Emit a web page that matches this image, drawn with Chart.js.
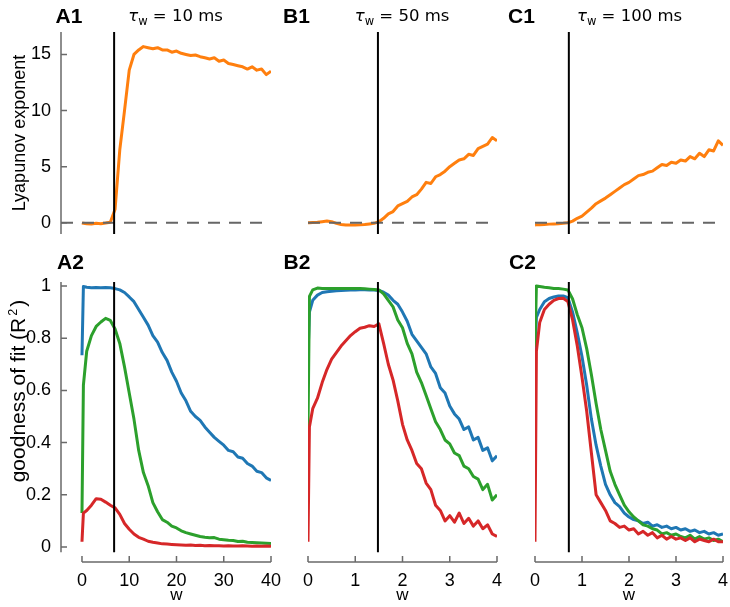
<!DOCTYPE html>
<html>
<head>
<meta charset="utf-8">
<script src="https://cdn.jsdelivr.net/npm/chart.js@4.4.0/dist/chart.umd.min.js"></script>
<style>
body { margin:0; background:#fff; width:730px; height:607px; position:relative; overflow:hidden; font-family:"Liberation Sans", Arial, sans-serif; }
canvas { position:absolute; }
.lbl { position:absolute; transform:translate(-50%,-50%); line-height:1; white-space:nowrap; color:#000; }
.panel { font-weight:bold; font-size:21px; }
.tau { font-family:"DejaVu Sans", sans-serif; font-size:16.5px; }
.tau sub { font-size:70%; vertical-align:-0.35em; line-height:0; }
.ylab { transform:translate(-50%,-50%) rotate(-90deg); }
.ylab sup { font-size:60%; vertical-align:0.6em; line-height:0; margin:0 2px; }
.xlab { font-size:17px; }
</style>
</head>
<body>
<canvas id="a1" width="285" height="250" style="left:0;top:0"></canvas>
<canvas id="b1" width="220" height="250" style="left:290px;top:0"></canvas>
<canvas id="c1" width="213" height="250" style="left:517px;top:0"></canvas>
<canvas id="a2" width="285" height="367" style="left:0;top:240px"></canvas>
<canvas id="b2" width="220" height="367" style="left:290px;top:240px"></canvas>
<canvas id="c2" width="213" height="367" style="left:517px;top:240px"></canvas>

<div class="lbl panel" style="left:69px;top:14.5px">A1</div>
<div class="lbl panel" style="left:296.5px;top:14.5px">B1</div>
<div class="lbl panel" style="left:521.5px;top:14.5px">C1</div>
<div class="lbl panel" style="left:70.5px;top:260.5px">A2</div>
<div class="lbl panel" style="left:297px;top:260.5px">B2</div>
<div class="lbl panel" style="left:522.5px;top:260.5px">C2</div>
<div class="lbl tau" style="left:175.5px;top:15.5px"><i>τ</i><sub>w</sub> = 10 ms</div>
<div class="lbl tau" style="left:402px;top:15.5px"><i>τ</i><sub>w</sub> = 50 ms</div>
<div class="lbl tau" style="left:629.5px;top:15.5px"><i>τ</i><sub>w</sub> = 100 ms</div>
<div class="lbl ylab" style="left:19px;top:132.5px;font-size:18px">Lyapunov exponent</div>
<div class="lbl ylab" style="left:17px;top:391px;font-size:21px">goodness of fit (R<sup>2</sup>)</div>
<div class="lbl xlab" style="left:176.5px;top:594px">w</div>
<div class="lbl xlab" style="left:402.5px;top:594px">w</div>
<div class="lbl xlab" style="left:629px;top:594px">w</div>

<script>
// w values (A: tau_w = 10 ms, B/C: tau_w = 50 / 100 ms)
var wA = [0, 0.3, 1, 2, 3, 4, 5, 6, 7, 8, 9, 10, 11, 12, 13, 14, 15, 16, 17, 18, 19, 20,
          21, 22, 23, 24, 25, 26, 27, 28, 29, 30, 31, 32, 33, 34, 35, 36, 37, 38, 39, 40];
var wB = [0, 0.03, 0.1, 0.2, 0.3, 0.4, 0.5, 0.6, 0.7, 0.8, 0.9, 1.0, 1.1, 1.2, 1.3, 1.4, 1.5,
          1.6, 1.7, 1.8, 1.9, 2.0, 2.1, 2.2, 2.3, 2.4, 2.5, 2.6, 2.7, 2.8, 2.9, 3.0,
          3.1, 3.2, 3.3, 3.4, 3.5, 3.6, 3.7, 3.8, 3.9, 4.0];
var wC = wB;

// critical w (vertical lines)
var wCritA = 6.8, wCritB = 1.48, wCritC = 0.72;

// Lyapunov exponent
var lyapA = [0.0, -0.05, -0.08, -0.1, -0.05, -0.08, -0.02, 0.05, 1.2, 6.5, 10.0, 13.6, 15.0, 15.4, 15.7,
             15.6, 15.5, 15.6, 15.4, 15.4, 15.2, 15.3, 15.1, 15.0, 14.9, 14.95, 14.8, 14.7, 14.6, 14.7,
             14.4, 14.5, 14.2, 14.1, 14.0, 13.9, 13.7, 13.9, 13.6, 13.7, 13.2, 13.5];
var lyapB = [0.0, 0.0, 0.02, 0.05, 0.1, 0.15, 0.1, -0.05, -0.15, -0.2, -0.2, -0.2, -0.18, -0.15, -0.1,
             -0.05, 0.1, 0.4, 0.8, 1.0, 1.5, 1.7, 1.9, 2.3, 2.5, 3.0, 3.6, 3.5, 4.1, 4.3, 4.6, 5.0,
             5.3, 5.6, 5.7, 6.1, 6.0, 6.6, 6.8, 7.0, 7.6, 7.3];
var lyapC = [-0.2, -0.18, -0.18, -0.15, -0.12, -0.1, -0.08, -0.05, 0.0, 0.15, 0.4, 0.6, 0.95, 1.3, 1.7,
             1.95, 2.2, 2.5, 2.8, 3.1, 3.4, 3.6, 3.9, 4.2, 4.3, 4.5, 4.6, 4.9, 5.2, 5.1, 5.4, 5.3,
             5.6, 5.5, 5.9, 5.7, 6.2, 5.9, 6.5, 6.4, 7.3, 6.9];

// goodness of fit (R^2)
var blueA = [0.735, 0.998, 0.995, 0.993, 0.994, 0.993, 0.994, 0.993, 0.99, 0.985, 0.975, 0.958, 0.94,
             0.91, 0.88, 0.85, 0.81, 0.785, 0.745, 0.715, 0.67, 0.635, 0.59, 0.56, 0.52, 0.5, 0.485,
             0.46, 0.44, 0.42, 0.405, 0.39, 0.37, 0.365, 0.345, 0.34, 0.32, 0.31, 0.29, 0.285, 0.265, 0.255];
var greenA = [0.13, 0.62, 0.75, 0.81, 0.845, 0.862, 0.876, 0.868, 0.835, 0.78, 0.69, 0.59, 0.49, 0.37,
              0.285, 0.235, 0.17, 0.135, 0.105, 0.095, 0.08, 0.073, 0.062, 0.055, 0.05, 0.045, 0.04,
              0.037, 0.035, 0.036, 0.03, 0.028, 0.026, 0.025, 0.021, 0.022, 0.018, 0.017, 0.016, 0.015, 0.014, 0.013];
var redA = [0.02, 0.13, 0.14, 0.16, 0.185, 0.183, 0.172, 0.16, 0.15, 0.125, 0.09, 0.068, 0.05, 0.037,
            0.03, 0.022, 0.018, 0.015, 0.012, 0.011, 0.01, 0.009, 0.008, 0.007, 0.008, 0.006, 0.007,
            0.005, 0.006, 0.005, 0.005, 0.004, 0.005, 0.004, 0.004, 0.005, 0.004, 0.003, 0.004, 0.003, 0.004, 0.003];

var blueB = [0.735, 0.9, 0.945, 0.965, 0.975, 0.978, 0.98, 0.982, 0.983, 0.984, 0.985, 0.985,
             0.986, 0.986, 0.985, 0.985, 0.983, 0.976, 0.965, 0.945, 0.93, 0.9, 0.865, 0.815, 0.79,
             0.765, 0.74, 0.69, 0.665, 0.61, 0.59, 0.54, 0.51, 0.49, 0.45, 0.46, 0.41, 0.42, 0.37,
             0.38, 0.33, 0.35];
var greenB = [0.45, 0.96, 0.985, 0.992, 0.99, 0.99, 0.99, 0.99, 0.99, 0.99, 0.99, 0.99,
              0.99, 0.989, 0.988, 0.987, 0.985, 0.97, 0.945, 0.92, 0.87, 0.84, 0.78, 0.74, 0.67,
              0.63, 0.58, 0.53, 0.48, 0.45, 0.41, 0.395, 0.36, 0.35, 0.31, 0.3, 0.27, 0.26, 0.22,
              0.24, 0.18, 0.2];
var redB = [0.02, 0.46, 0.53, 0.57, 0.63, 0.68, 0.72, 0.745, 0.77, 0.79, 0.81, 0.825,
            0.838, 0.842, 0.848, 0.845, 0.855, 0.78, 0.7, 0.64, 0.56, 0.47, 0.41, 0.37, 0.32,
            0.3, 0.245, 0.22, 0.16, 0.14, 0.1, 0.12, 0.095, 0.13, 0.09, 0.11, 0.08, 0.1, 0.07,
            0.085, 0.05, 0.04];

var blueC = [0.735, 0.88, 0.91, 0.94, 0.952, 0.958, 0.962, 0.962, 0.955, 0.9, 0.82, 0.73,
             0.62, 0.49, 0.39, 0.31, 0.24, 0.2, 0.17, 0.155, 0.13, 0.115, 0.105, 0.1, 0.09,
             0.095, 0.08, 0.085, 0.075, 0.08, 0.07, 0.075, 0.065, 0.07, 0.06, 0.065, 0.055, 0.06,
             0.05, 0.055, 0.045, 0.05];
var greenC = [0.767, 1.0, 0.998, 0.995, 0.993, 0.99, 0.99, 0.988, 0.985, 0.95, 0.89, 0.84,
              0.76, 0.66, 0.55, 0.45, 0.37, 0.29, 0.24, 0.2, 0.16, 0.135, 0.115, 0.1, 0.085,
              0.08, 0.07, 0.065, 0.05, 0.055, 0.045, 0.05, 0.04, 0.035, 0.045, 0.03, 0.04, 0.03,
              0.035, 0.025, 0.03, 0.02];
var redC = [0.02, 0.75, 0.86, 0.91, 0.93, 0.945, 0.952, 0.953, 0.94, 0.87, 0.77, 0.65,
            0.52, 0.36, 0.2, 0.17, 0.14, 0.1, 0.09, 0.075, 0.08, 0.065, 0.07, 0.05, 0.06,
            0.045, 0.055, 0.035, 0.045, 0.03, 0.04, 0.03, 0.035, 0.025, 0.035, 0.02, 0.03, 0.025,
            0.02, 0.03, 0.02, 0.02];

// ticks
var lyapTicks = [0, 5, 10, 15];
var fitTicks = [0, 0.2, 0.4, 0.6, 0.8, 1];
var wTicksA = [0, 10, 20, 30, 40];
var wTicksBC = [0, 1, 2, 3, 4];

var ORANGE = '#ff7f0e', BLUE = '#1f77b4', GREEN = '#2ca02c', RED = '#d62728';
var tickFont = { family: 'Liberation Sans', size: 18 };

var pts = function(xs, ys) {
    return xs.map(function(x, i) { return { x: x, y: ys[i] }; });
};

var line = function(data, color, width, dash) {
    return { data: data, borderColor: color, borderWidth: width, borderDash: dash || [],
             pointRadius: 0, fill: false, tension: 0, borderJoinStyle: 'round' };
};

// axis spines with inward tick marks, like the original figure
var spines = function(o) {
    return {
        id: 'spines',
        beforeDatasetsDraw: function(chart) {
            var ctx = chart.ctx, xs = chart.scales.x, ys = chart.scales.y, a = chart.chartArea;
            ctx.save();
            ctx.strokeStyle = '#6a6a6a';
            ctx.lineWidth = 1.5;
            ctx.beginPath();
            if (o.y) {
                ctx.moveTo(a.left, ys.getPixelForValue(o.y[0]));
                ctx.lineTo(a.left, ys.getPixelForValue(o.y[1]));
                o.yTicks.forEach(function(v) {
                    var p = ys.getPixelForValue(v);
                    ctx.moveTo(a.left, p);
                    ctx.lineTo(a.left + 6, p);
                });
            }
            if (o.x) {
                ctx.moveTo(xs.getPixelForValue(o.x[0]), a.bottom);
                ctx.lineTo(xs.getPixelForValue(o.x[1]), a.bottom);
                o.xTicks.forEach(function(v) {
                    var p = xs.getPixelForValue(v);
                    ctx.moveTo(p, a.bottom);
                    ctx.lineTo(p, a.bottom - 6);
                });
            }
            ctx.stroke();
            ctx.restore();
        }
    };
};

var makeChart = function(id, c) {
    var top = c.row === 1;
    var yMin = top ? -1 : -0.0575, yMax = top ? 17 : 1.0153;
    var vLo = top ? -1 : -0.02, vHi = top ? 17 : 1.0153;
    var datasets = [line([{ x: c.crit, y: vLo }, { x: c.crit, y: vHi }], '#000', 2)];
    if (top) {
        datasets.push(line([{ x: c.xMin, y: 0 }, { x: c.xMax, y: 0 }], '#666', 2, [12, 9]));
        datasets.push(line(pts(c.w, c.lyap), ORANGE, 3));
    } else {
        datasets.push(line(pts(c.w, c.red), RED, 3));
        datasets.push(line(pts(c.w, c.green), GREEN, 3));
        datasets.push(line(pts(c.w, c.blue), BLUE, 3));
    }
    var yTicks = top ? lyapTicks : fitTicks;
    return new Chart(document.getElementById(id), {
        type: 'line',
        data: { datasets: datasets },
        options: {
            responsive: false,
            animation: false,
            devicePixelRatio: 1,
            layout: { padding: c.pad },
            plugins: { legend: { display: false }, tooltip: { enabled: false } },
            scales: {
                x: {
                    type: 'linear', min: c.xMin, max: c.xMax,
                    display: !top,
                    grid: { display: false, drawTicks: false },
                    border: { display: false },
                    afterBuildTicks: function(s) { s.ticks = c.xTicks.map(function(v) { return { value: v }; }); },
                    afterFit: function(s) {
                        if (!top) s.height = 45;
                        s.paddingLeft = 0; s.paddingRight = 0;
                    },
                    ticks: { font: tickFont, color: '#000', padding: 8, maxRotation: 0,
                             callback: function(v) { return String(v); } }
                },
                y: {
                    type: 'linear', min: yMin, max: yMax,
                    display: c.yAxis,
                    grid: { display: false, drawTicks: false },
                    border: { display: false },
                    afterBuildTicks: function(s) { s.ticks = yTicks.map(function(v) { return { value: v }; }); },
                    afterFit: function(s) {
                        if (c.yAxis) s.width = 61;
                        s.paddingTop = 0; s.paddingBottom = 0;
                    },
                    ticks: { font: tickFont, color: '#000', padding: 10,
                             callback: function(v) { return String(v); } }
                }
            }
        },
        plugins: [spines({
            y: c.yAxis ? [vLo, vHi] : null, yTicks: yTicks,
            x: top ? null : [c.xTicks[0], c.xTicks[c.xTicks.length - 1]], xTicks: c.xTicks
        })]
    });
};

makeChart('a1', { row: 1, w: wA, lyap: lyapA, crit: wCritA, xMin: -4.44, xMax: 40, xTicks: wTicksA, yAxis: true,
                  pad: { left: 0, right: 14, top: 32, bottom: 16 } });
makeChart('b1', { row: 1, w: wB, lyap: lyapB, crit: wCritB, xMin: 0, xMax: 4, xTicks: wTicksBC, yAxis: false,
                  pad: { left: 18, right: 13, top: 32, bottom: 16 } });
makeChart('c1', { row: 1, w: wC, lyap: lyapC, crit: wCritC, xMin: 0, xMax: 4, xTicks: wTicksBC, yAxis: false,
                  pad: { left: 18, right: 7, top: 32, bottom: 16 } });
makeChart('a2', { row: 2, w: wA, blue: blueA, green: greenA, red: redA, crit: wCritA, xMin: -4.44, xMax: 40,
                  xTicks: wTicksA, yAxis: true, pad: { left: 0, right: 14, top: 42, bottom: 0 } });
makeChart('b2', { row: 2, w: wB, blue: blueB, green: greenB, red: redB, crit: wCritB, xMin: 0, xMax: 4,
                  xTicks: wTicksBC, yAxis: false, pad: { left: 18, right: 13, top: 42, bottom: 0 } });
makeChart('c2', { row: 2, w: wC, blue: blueC, green: greenC, red: redC, crit: wCritC, xMin: 0, xMax: 4,
                  xTicks: wTicksBC, yAxis: false, pad: { left: 18, right: 7, top: 42, bottom: 0 } });
</script>
</body>
</html>
